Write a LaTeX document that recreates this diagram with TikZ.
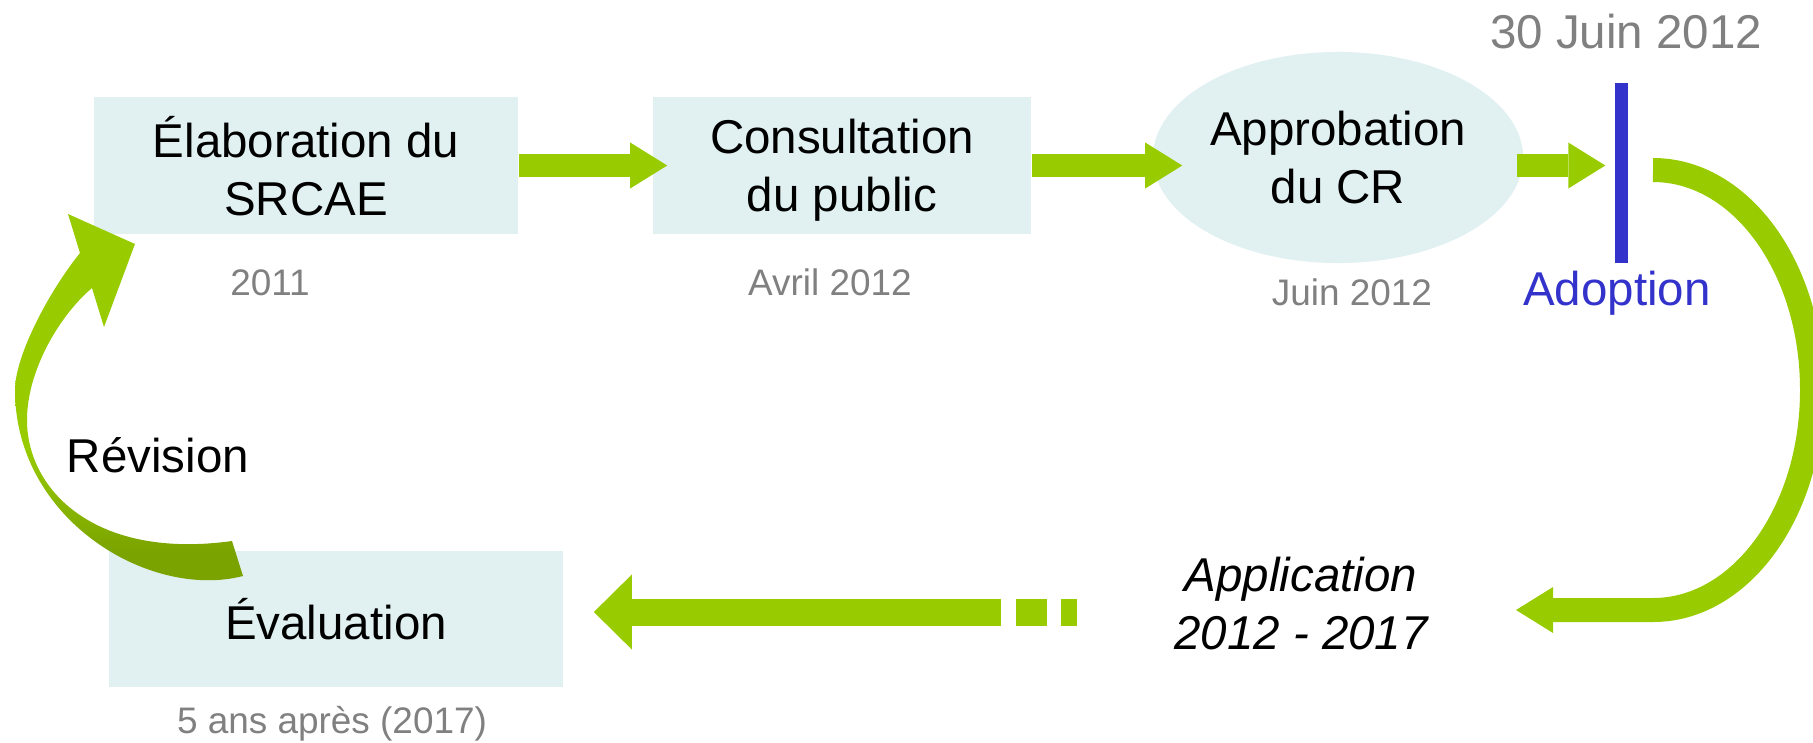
\documentclass[tikz,border=0pt]{standalone}
\usepackage{fontspec}
\setmainfont{Liberation Sans}
\usetikzlibrary{arrows.meta,shapes.geometric,positioning}

\definecolor{boxcyan}{RGB}{225,240,241}
\definecolor{argreen}{RGB}{153,204,0}
\definecolor{dkgreen}{RGB}{122,163,0}
\definecolor{adblue}{RGB}{51,51,204}
\definecolor{lblgray}{RGB}{128,128,128}

\pgfdeclareverticalshading{revshade}{100bp}{color(0bp)=(dkgreen); color(31bp)=(dkgreen);
  color(45bp)=(argreen); color(100bp)=(argreen)}

\newcommand{\bigfont}{\fontsize{13.5pt}{16.5pt}\selectfont}
\newcommand{\smallfont}{\fontsize{10.5pt}{12.6pt}\selectfont}

\begin{document}
\begin{tikzpicture}[x=0.01cm,y=-0.01cm,
    stage/.style={fill=boxcyan,draw=none,inner sep=0pt,align=center,font=\bigfont,text depth=0pt},
    datelbl/.style={anchor=base,inner sep=0pt,text=lblgray,font=\smallfont},
    flowarrow/.style={argreen,line width=0.23cm,-{Triangle[width=0.46cm,length=0.37cm,line width=0pt]}},
    loopline/.style={argreen,line width=0.24cm,-{Triangle[width=0.46cm,length=0.37cm,line width=0pt]}},
    backarrow/.style={argreen,line width=0.27cm,
      dash pattern=on 0.16cm off 0.14cm on 0.31cm off 0.15cm on 8cm off 1cm,
      -{Triangle[width=0.75cm,length=0.38cm,line width=0pt]}}]
      \useasboundingbox (0,0) rectangle (1813,742);

      %%%%%%%%%%%%%%%%%%%%%%%%%%%%%%%%%%%%%%%%%%%%%%%%%%%%%%%%%%%%%%%%%%%%%%%%%%%
      %%%%  Stages
      \node[stage,minimum width=4.24cm,minimum height=1.37cm] (elab) at (306,165.5) {Élaboration du\\SRCAE};
      \node[stage,minimum width=3.78cm,minimum height=1.37cm] (consult) at (842,165.5) {Consultation\\du public};
      \node[stage,ellipse,minimum width=3.70cm,minimum height=2.11cm] (approb) at (1338,157.5) {Approbation\\du CR};
      \node[stage,minimum width=4.54cm,minimum height=1.36cm] (eval) at (336,619) {Évaluation};

      \node[fill=adblue,inner sep=0pt,minimum width=0.13cm,minimum height=1.80cm] (bar) at (1621.5,173) {};
      \node[anchor=base,inner sep=0pt,text=lblgray,font=\bigfont] (date30) at (1626,48) {30 Juin 2012};
      \node[anchor=base,inner sep=0pt,text=adblue,font=\bigfont] (adopt) at (1617,305) {Adoption};
      \node[anchor=base,inner sep=0pt,font=\bigfont] (revis) at (158,472) {Révision};
      \node[inner sep=0pt,align=center,font=\bigfont\itshape,text depth=0pt] (appli) at (1301,603.5) {Application\\2012 - 2017};

      % dates under the stages
      \foreach \nm/\px/\py/\txt in {d2011/270/295/2011,davril/830/295/Avril 2012,
                                    djuin/1352/305/Juin 2012,d5ans/332/733/5 ans après (2017)}
      {\node[datelbl] (\nm) at (\px,\py) {\txt};};

      %%%%%%%%%%%%%%%%%%%%%%%%%%%%%%%%%%%%%%%%%%%%%%%%%%%%%%%%%%%%%%%%%%%%%%%%%%%
      %%%%  Arrows
      \draw[flowarrow] (elab.east) -- ([xshift=0.15cm]consult.west);
      \draw[flowarrow] (consult.east) -- ([xshift=0.30cm]consult.east -| approb.west);
      \draw[flowarrow] ([xshift=-0.07cm]approb.east |- consult.east) -- ([xshift=-0.09cm]bar.west |- consult.east);

      \coordinate (curvetop) at (1653,170);
      \coordinate (curvebot) at (1653,610);
      \coordinate (appin) at (1516,610);
      \draw[loopline] (curvetop) .. controls (1741,170) and (1812,268) .. (1812,390)
        .. controls (1812,512) and (1741,610) .. (curvebot) -- (appin);

      \coordinate (appout) at (1077,612);
      \draw[backarrow] (appout) -- ([xshift=0.30cm]eval.east |- appout);

      % revision arrow, from eval back to elab
      \shade[shading=revshade]
        (80,253) -- (68,214) -- (135,244) -- (104,327) -- (92,288)
        .. controls (60,315) and (27,370) .. (27,420)
        .. controls (27,490) and (95,560) .. (232,541)
        -- (243,576)
        .. controls (150,600) and (15,520) .. (15,390)
        .. controls (15,355) and (50,290) .. (80,253)
        -- cycle;
\end{tikzpicture}
\end{document}
